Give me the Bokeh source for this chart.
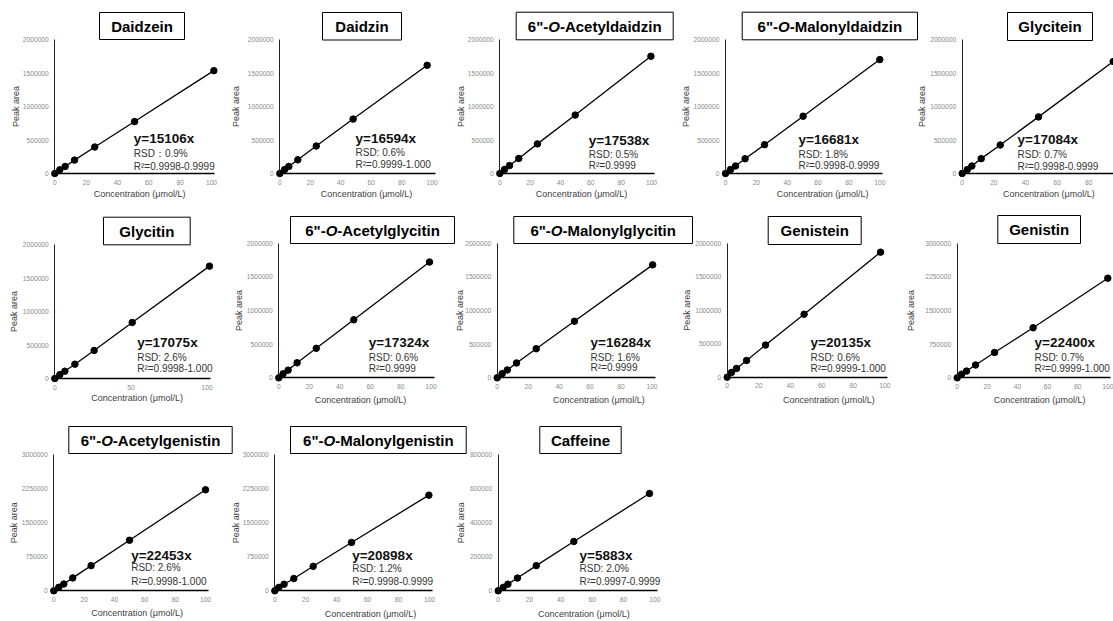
import math
from bokeh.plotting import figure
from bokeh.models import (Range1d, LinearAxis, FixedTicker, BasicTickFormatter,
                          Label, ColumnDataSource)
from bokeh.embed import file_html
from bokeh.resources import INLINE

# ---------------- data ----------------
compounds = ["Daidzein", "Daidzin", '6"-O-Acetyldaidzin', '6"-O-Malonyldaidzin', "Glycitein",
             "Glycitin", '6"-O-Acetylglycitin', '6"-O-Malonylglycitin', "Genistein", "Genistin",
             '6"-O-Acetylgenistin', '6"-O-Malonylgenistin', "Caffeine"]
equations = ["y=15106x", "y=16594x", "y=17538x", "y=16681x", "y=17084x",
             "y=17075x", "y=17324x", "y=16284x", "y=20135x", "y=22400x",
             "y=22453x", "y=20898x", "y=5883x"]
rsd_texts = ["RSD：0.9%", "RSD: 0.6%", "RSD: 0.5%", "RSD: 1.8%", "RSD: 0.7%",
             "RSD: 2.6%", "RSD: 0.6%", "RSD: 1.6%", "RSD: 0.6%", "RSD: 0.7%",
             "RSD: 2.6%", "RSD: 1.2%", "RSD: 2.0%"]
r2_texts = ["R²=0.9998-0.9999", "R²=0.9999-1.000", "R²=0.9999", "R²=0.9998-0.9999", "R²=0.9998-0.9999",
            "R²=0.9998-1.000", "R²=0.9999", "R²=0.9999", "R²=0.9999-1.000", "R²=0.9999-1.000",
            "R²=0.9998-1.000", "R²=0.9998-0.9999", "R²=0.9997-0.9999"]

daidzein_x = [0, 3.2, 6.6, 12.6, 25.5, 50.9, 101.5]
daidzein_y = [0, 55000, 105000, 200000, 395000, 775000, 1535000]
daidzin_x = [0, 3.1, 5.9, 11.8, 23.9, 48.1, 96.7]
daidzin_y = [0, 58000, 105000, 204000, 410000, 812000, 1615000]
acetyldaidzin_x = [0, 3.1, 6.4, 12.5, 24.8, 49.7, 99.6]
acetyldaidzin_y = [0, 60000, 118000, 225000, 442000, 872000, 1750000]
malonyldaidzin_x = [0, 3.2, 6.5, 12.7, 25.3, 50.3, 100.0]
malonyldaidzin_y = [0, 58000, 112000, 220000, 430000, 855000, 1700000]
glycitein_x = [0, 3.2, 6.1, 12.0, 24.0, 48.2, 95.4]
glycitein_y = [0, 58000, 112000, 222000, 425000, 845000, 1672000]
glycitin_x = [0, 3.3, 6.6, 13.2, 25.8, 50.8, 101.5]
glycitin_y = [0, 58000, 109000, 214000, 418000, 836000, 1677000]
acetylglycitin_x = [0, 2.8, 6.1, 12.0, 24.6, 49.2, 98.9]
acetylglycitin_y = [0, 59000, 114000, 223000, 438000, 862000, 1720000]
malonylglycitin_x = [0, 3.2, 6.5, 12.5, 25.2, 49.9, 100.4]
malonylglycitin_y = [0, 62000, 116000, 220000, 432000, 840000, 1678000]
genistein_x = [0, 2.7, 5.9, 12.3, 24.3, 48.8, 97.3]
genistein_y = [0, 70000, 130000, 250000, 480000, 940000, 1866000]
genistin_x = [0, 2.9, 6.2, 12.2, 24.8, 50.4, 100.0]
genistin_y = [0, 80000, 150000, 285000, 565000, 1115000, 2220000]
acetylgenistin_x = [0, 3.3, 6.6, 12.5, 24.6, 49.9, 100.0]
acetylgenistin_y = [0, 78000, 150000, 285000, 555000, 1115000, 2228000]
malonylgenistin_x = [0, 2.6, 6.0, 12.3, 24.8, 49.6, 99.6]
malonylgenistin_y = [0, 75000, 145000, 270000, 540000, 1066000, 2110000]
caffeine_x = [0, 3.2, 6.2, 12.3, 24.3, 48.3, 96.6]
caffeine_y = [0, 20000, 39000, 75000, 148000, 290000, 572500]

series = [(daidzein_x, daidzein_y), (daidzin_x, daidzin_y), (acetyldaidzin_x, acetyldaidzin_y),
          (malonyldaidzin_x, malonyldaidzin_y), (glycitein_x, glycitein_y), (glycitin_x, glycitin_y),
          (acetylglycitin_x, acetylglycitin_y), (malonylglycitin_x, malonylglycitin_y),
          (genistein_x, genistein_y), (genistin_x, genistin_y), (acetylgenistin_x, acetylgenistin_y),
          (malonylgenistin_x, malonylgenistin_y), (caffeine_x, caffeine_y)]

y_axis_max = [2000000] * 9 + [3000000, 3000000, 3000000, 800000]
y_tick_step = [500000] * 9 + [750000, 750000, 750000, 200000]
x_ticks_default = [0, 20, 40, 60, 80, 100]
x_ticks_glycitin = [0, 50, 100]
x_label = "Concentration (μmol/L)"
y_label = "Peak area"

# ---------------- layout (pixel positions in the 1113x621 picture) ----------------
L = [
    dict(X0=54.3, X100=211.0, Y0=173.0, YT=39.0, box=(99, 184, 12, 39), ann=(133.3, 138, 153, 166), ylx=15, xlc=139.2, xly=193.3),
    dict(X0=279.3, X100=431.7, Y0=173.0, YT=39.0, box=(322, 401, 12, 39.5), ann=(355, 138, 152, 164), ylx=235, xlc=366, xly=193.3),
    dict(X0=499.3, X100=651.0, Y0=173.0, YT=39.0, box=(515.7, 672.7, 11.7, 39.3), ann=(588.3, 140, 154, 165), ylx=460, xlc=581, xly=193.3),
    dict(X0=725.0, X100=879.3, Y0=173.0, YT=39.0, box=(741.7, 917, 11.7, 39.3), ann=(798, 139, 154, 165), ylx=685, xlc=822.2, xly=193.3),
    dict(X0=961.7, X100=1120.0, Y0=173.0, YT=39.0, box=(1007, 1092, 12, 40), ann=(1017, 139, 154, 166), ylx=921.7, xlc=1048.3, xly=193.3),
    dict(X0=54.3, X100=206.7, Y0=378.0, YT=244.0, box=(103, 189.7, 216.7, 244.3), ann=(136.7, 342.3, 356.7, 368.3), ylx=13.3, xlc=136.7, xly=397),
    dict(X0=278.3, X100=430.7, Y0=377.3, YT=242.7, box=(290, 454, 216, 243), ann=(368.3, 342.3, 356.7, 367.7), ylx=238.3, xlc=360, xly=399.5),
    dict(X0=496.7, X100=651.5, Y0=377.3, YT=242.7, box=(513.3, 692, 216, 243), ann=(590, 342.3, 356.7, 367), ylx=459.3, xlc=598.3, xly=399.5),
    dict(X0=726.7, X100=884.3, Y0=376.7, YT=242.7, box=(767.7, 860.7, 216, 244), ann=(810, 342.3, 357.3, 368.3), ylx=686.7, xlc=828.3, xly=399.5),
    dict(X0=956.7, X100=1107.3, Y0=377.3, YT=242.7, box=(997.3, 1080, 215, 243), ann=(1034, 342.3, 357, 368.3), ylx=910, xlc=1039.2, xly=399.5),
    dict(X0=53.3, X100=205.0, Y0=590.3, YT=454.3, box=(68.3, 231.7, 426, 453), ann=(130.7, 555, 566.7, 580.5), ylx=13.3, xlc=136.7, xly=612.5),
    dict(X0=274.3, X100=429.0, Y0=590.3, YT=454.3, box=(290, 465.7, 426, 453), ann=(351.7, 555, 568.3, 580.5), ylx=235.7, xlc=370, xly=613.5),
    dict(X0=497.7, X100=654.3, Y0=590.3, YT=454.3, box=(539.3, 620.7, 426, 453), ann=(579, 555, 568, 580.5), ylx=460, xlc=583.3, xly=613.5),
]

FW, FH = 1113, 621
X_LO, X_HI = 0, FW
Y_LO, Y_HI = 0, FH
FONT = "Liberation Sans"

# Arial/Liberation Sans Bold advance widths (per 1000 em)
BOLD_W = {'6': 556, '"': 474, '-': 333, 'O': 778, 'A': 722, 'c': 556, 'e': 556, 't': 333,
          'y': 556, 'l': 278, 'd': 611, 'a': 556, 'i': 278, 'z': 500, 'n': 611, 'M': 833,
          'o': 611, 'g': 611, 'G': 778, 's': 556, 'D': 722, 'C': 722, 'f': 333}


def bold_width(s, size):
    return sum(BOLD_W.get(ch, 556) for ch in s) * size / 1000.0


p = figure(width=FW, height=FH, x_range=Range1d(X_LO, X_HI), y_range=Range1d(Y_HI, Y_LO),
           x_axis_type=None, y_axis_type=None, toolbar_location=None, output_backend="svg",
           min_border=0, outline_line_color=None)
p.background_fill_color = "white"
p.border_fill_color = "white"

extra_x, extra_y = {}, {}
for i, lay in enumerate(L):
    s = (lay["X100"] - lay["X0"]) / 100.0
    t = (lay["Y0"] - lay["YT"]) / y_axis_max[i]
    extra_x[f"x{i}"] = Range1d((X_LO - lay["X0"]) / s, (X_HI - lay["X0"]) / s)
    extra_y[f"y{i}"] = Range1d((lay["Y0"] - Y_HI) / t, (lay["Y0"] - Y_LO) / t)
p.extra_x_ranges = extra_x
p.extra_y_ranges = extra_y

for i, lay in enumerate(L):
    xs, ys = series[i]
    xn, yn = f"x{i}", f"y{i}"
    src = ColumnDataSource(dict(x=xs, y=ys))
    p.line("x", "y", source=src, x_range_name=xn, y_range_name=yn, line_color="black", line_width=1.3)
    p.scatter("x", "y", source=src, x_range_name=xn, y_range_name=yn, size=6.5,
              fill_color="black", line_color="black")

    yticks = list(range(0, y_axis_max[i] + 1, y_tick_step[i]))
    yax = LinearAxis(x_range_name=xn, y_range_name=yn, fixed_location=0, bounds=(0, y_axis_max[i]),
                     ticker=FixedTicker(ticks=yticks), formatter=BasicTickFormatter(use_scientific=False),
                     major_tick_line_color=None, minor_tick_line_color=None,
                     major_tick_in=0, major_tick_out=0, minor_tick_in=0, minor_tick_out=0,
                     major_label_text_font=FONT, major_label_text_font_size="6.7px",
                     major_label_text_color="#8a8a8a", major_label_standoff=6,
                     axis_line_color="#222222", axis_line_width=1)
    p.add_layout(yax, "left")
    xticks = x_ticks_glycitin if i == 5 else x_ticks_default
    xax = LinearAxis(x_range_name=xn, y_range_name=yn, fixed_location=0, bounds=(0, 102),
                     ticker=FixedTicker(ticks=xticks), formatter=BasicTickFormatter(use_scientific=False),
                     major_tick_line_color=None, minor_tick_line_color=None,
                     major_tick_in=0, major_tick_out=0, minor_tick_in=0, minor_tick_out=0,
                     major_label_text_font=FONT, major_label_text_font_size="6.7px",
                     major_label_text_color="#8a8a8a", major_label_standoff=6,
                     axis_line_color="black", axis_line_width=1.3)
    p.add_layout(xax, "below")

    # axis titles
    p.add_layout(Label(x=lay["ylx"], y=(lay["Y0"] + lay["YT"]) / 2, text=y_label, angle=math.pi / 2,
                       text_align="center", text_baseline="middle", text_font=FONT,
                       text_font_size="9px", text_color="#404040"))
    p.add_layout(Label(x=lay["xlc"], y=lay["xly"], text=x_label, text_align="center",
                       text_baseline="middle", text_font=FONT, text_font_size="9px", text_color="#404040"))

    # title box
    bl, br, bt, bb = lay["box"]
    p.quad(left=[bl], right=[br], top=[bt], bottom=[bb], fill_color="white", line_color="black", line_width=1)
    cx, cy = (bl + br) / 2, (bt + bb) / 2
    name = compounds[i]
    if "-O-" in name:
        pre, rest = name.split("-O-", 1)
        segs = [(pre + "-", "bold"), ("O", "bold italic"), ("-" + rest, "bold")]
        total = sum(bold_width(sg, 15) for sg, _ in segs)
        xpos = cx - total / 2
        for sg, st in segs:
            p.add_layout(Label(x=xpos, y=cy, text=sg, text_align="left", text_baseline="middle",
                               text_font=FONT, text_font_size="15px", text_font_style=st, text_color="black"))
            xpos += bold_width(sg, 15)
    else:
        p.add_layout(Label(x=cx, y=cy, text=name, text_align="center", text_baseline="middle",
                           text_font=FONT, text_font_size="15px", text_font_style="bold", text_color="black"))

    # annotations
    ax_, y1, y2, y3 = lay["ann"]
    p.add_layout(Label(x=ax_, y=y1, text=equations[i], text_align="left", text_baseline="middle",
                       text_font=FONT, text_font_size="13.5px", text_font_style="bold", text_color="#111111"))
    p.add_layout(Label(x=ax_, y=y2, text=rsd_texts[i], text_align="left", text_baseline="middle",
                       text_font=FONT, text_font_size="10px", text_color="#333333"))
    p.add_layout(Label(x=ax_, y=y3, text=r2_texts[i], text_align="left", text_baseline="middle",
                       text_font=FONT, text_font_size="10px", text_color="#333333"))

open("out.html", "w").write(file_html(p, INLINE))
